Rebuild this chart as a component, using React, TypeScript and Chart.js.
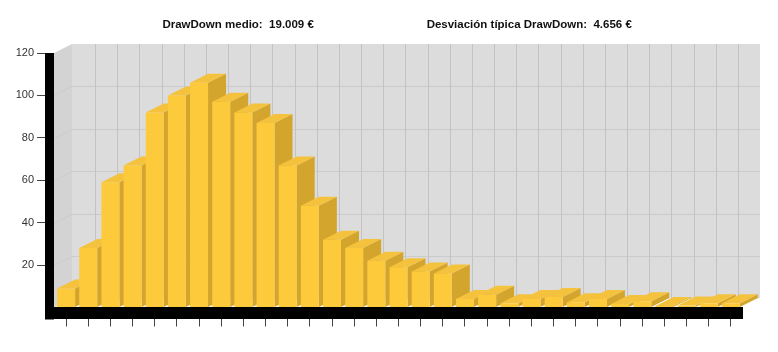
import { useEffect, useRef } from 'react';
import { Chart, registerables } from 'chart.js';

Chart.register(...registerables);

// ---- data ----
const categories = [
  '1', '2', '3', '4', '5', '6', '7', '8', '9', '10',
  '11', '12', '13', '14', '15', '16', '17', '18', '19', '20',
  '21', '22', '23', '24', '25', '26', '27', '28', '29', '30', '31',
];
const frequencies = [
  9, 28, 59, 67, 92, 100, 106, 97, 92, 87,
  67, 48, 32, 28, 22, 19, 17, 16, 4, 6,
  2, 4, 5, 2.5, 4, 1.7, 3, 0.7, 1, 2, 2,
];
const yTickValues = [0, 20, 40, 60, 80, 100, 120];
const headerLeft = 'DrawDown medio:  19.009 €';
const headerRight = 'Desviación típica DrawDown:  4.656 €';

// ---- styling ----
const DX = 18;
const DY = -9;
const FRONT = '#FDCA3C';
const SIDE = '#D4A52C';
const TOP = '#F4C23C';

function poly(ctx: CanvasRenderingContext2D, pts: number[][], fill: string) {
  ctx.beginPath();
  ctx.moveTo(pts[0][0], pts[0][1]);
  for (let i = 1; i < pts.length; i++) ctx.lineTo(pts[i][0], pts[i][1]);
  ctx.closePath();
  ctx.fillStyle = fill;
  ctx.fill();
}

const threeD = {
  id: 'threeD',
  beforeDatasetsDraw(chart: any) {
    const { ctx, chartArea: a, scales } = chart;
    const ys = scales.y;
    const xs = scales.x;
    const L = a.left - 1;
    ctx.save();
    // left side wall
    poly(ctx, [[L, a.top], [L + DX, a.top + DY], [L + DX, a.bottom + DY], [L, a.bottom]], '#d3d3d3');
    // back wall
    ctx.fillStyle = '#dcdcdc';
    ctx.fillRect(L + DX, a.top + DY, a.right + DX - (L + DX), a.bottom - a.top);
    // horizontal grid lines
    ctx.lineWidth = 1;
    ctx.strokeStyle = '#cbcbcb';
    yTickValues.forEach((v) => {
      if (v <= 0 || v >= 120) return;
      const py = Math.round(ys.getPixelForValue(v)) + 0.5;
      ctx.beginPath();
      ctx.moveTo(L, py);
      ctx.lineTo(L + DX, py + DY);
      ctx.lineTo(a.right + DX, py + DY);
      ctx.stroke();
    });
    // vertical grid lines on back wall (category boundaries)
    ctx.strokeStyle = '#c3c3c3';
    for (let i = 1; i < categories.length; i++) {
      const px = Math.round((xs.getPixelForValue(i - 1) + xs.getPixelForValue(i)) / 2 + DX) + 0.5;
      ctx.beginPath();
      ctx.moveTo(px, a.top + DY);
      ctx.lineTo(px, a.bottom + DY);
      ctx.stroke();
    }
    // side and top faces of bars
    const meta = chart.getDatasetMeta(0);
    meta.data.forEach((el: any) => {
      const p = el.getProps(['x', 'y', 'base', 'width'], true);
      const xl = p.x - p.width / 2;
      const xr = p.x + p.width / 2;
      const top = p.y;
      const base = p.base;
      poly(ctx, [[xr, top], [xr + DX, top + DY], [xr + DX, base + DY], [xr, base]], SIDE);
      poly(ctx, [[xl, top], [xl + DX, top + DY], [xr + DX, top + DY], [xr, top]], TOP);
    });
    ctx.restore();
  },
  afterDatasetsDraw(chart: any) {
    const { ctx, chartArea: a } = chart;
    ctx.save();
    ctx.fillStyle = '#000000';
    // left axis wall
    ctx.fillRect(a.left - 10, a.top, 9, a.bottom - a.top + 12);
    // bottom floor edge
    ctx.fillRect(a.left - 10, a.bottom - 0.5, a.right - a.left + 11, 12);
    ctx.restore();
  },
  afterDraw(chart: any) {
    const { ctx, width } = chart;
    ctx.save();
    ctx.fillStyle = '#111111';
    ctx.font = 'bold 11.5px "Liberation Sans", Arial, sans-serif';
    ctx.textAlign = 'center';
    ctx.textBaseline = 'alphabetic';
    ctx.fillText(headerLeft, width * 0.302, 19.5);
    ctx.fillText(headerRight, width * 0.684, 19.5);
    ctx.restore();
  },
};

export default function App() {
  const ref = useRef<HTMLCanvasElement | null>(null);

  useEffect(() => {
    if (!ref.current) return;
    const chart = new Chart(ref.current, {
      type: 'bar',
      data: {
        labels: categories,
        datasets: [
          {
            data: frequencies,
            backgroundColor: FRONT,
            borderWidth: 0,
            barPercentage: 0.81,
            categoryPercentage: 1,
          },
        ],
      },
      options: {
        animation: false,
        responsive: true,
        maintainAspectRatio: false,
        layout: { padding: { left: 0, right: 28, top: 45, bottom: 16.5 } },
        plugins: {
          legend: { display: false },
          title: { display: false },
          tooltip: { enabled: false },
        },
        scales: {
          x: {
            offset: true,
            grid: {
              offset: false,
              drawOnChartArea: false,
              drawTicks: true,
              tickLength: 19,
              color: '#444444',
            },
            border: { display: false },
            ticks: { display: false },
            afterFit: (s: any) => {
              s.height = 20;
            },
          },
          y: {
            min: 0,
            max: 120,
            afterBuildTicks: (s: any) => {
              s.ticks = yTickValues.map((v) => ({ value: v }));
            },
            grid: {
              drawOnChartArea: false,
              drawTicks: true,
              tickLength: 18,
              color: (c: any) => (c.tick && c.tick.value === 0 ? 'rgba(0,0,0,0)' : '#444444'),
            },
            border: { display: false },
            ticks: {
              padding: 3,
              color: '#333333',
              font: { family: '"Liberation Sans", Arial, sans-serif', size: 11 },
              callback: (v: any) => (v === 0 ? '' : String(v)),
            },
            afterFit: (s: any) => {
              s.width = 47;
            },
          },
        },
      },
      plugins: [threeD],
    });
    return () => chart.destroy();
  }, []);

  return (
    <div style={{ position: 'relative', width: 762, height: 336 }}>
      <canvas ref={ref} />
    </div>
  );
}
